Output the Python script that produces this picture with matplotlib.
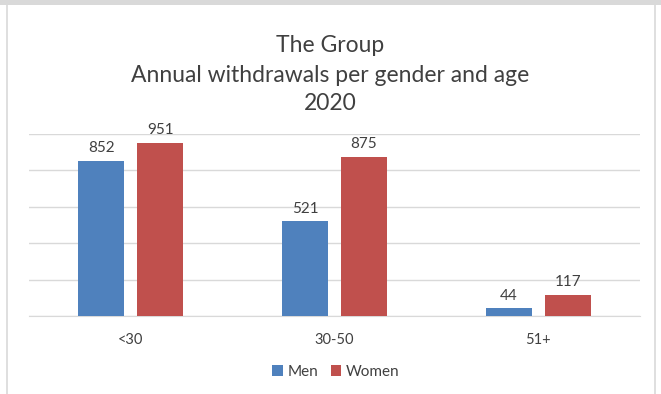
import numpy as np
import matplotlib.pyplot as plt
from matplotlib.patches import Rectangle

# data
categories = ["<30", "30-50", "51+"]
men = [852, 521, 44]
women = [951, 875, 117]

plt.rcParams['font.family'] = ['Lato', 'DejaVu Sans']

fig = plt.figure(figsize=(6.61, 3.94), dpi=100)

# frame around the chart (top band, left and right lines)
fig.add_artist(Rectangle((0, 1 - 5/394), 1, 5/394, transform=fig.transFigure,
                         color='#d9d9d9', lw=0))
fig.add_artist(plt.Line2D([7/661, 7/661], [0, 1 - 5/394], transform=fig.transFigure,
                          color='#d9d9d9', lw=1.2))
fig.add_artist(plt.Line2D([655/661, 655/661], [0, 1 - 5/394], transform=fig.transFigure,
                          color='#d9d9d9', lw=1.2))

# axes placed in pixels: x 29..640, y 134..316 (gridline 1000 .. 0)
ax = fig.add_axes([29/661, 1 - 316/394, (640-29)/661, (316-134)/394])

x = np.arange(len(categories))
w = 0.225
off = 0.145
b1 = ax.bar(x - off, men, w, color='#4F81BD', label='Men', zorder=3)
b2 = ax.bar(x + off, women, w, color='#C0504D', label='Women', zorder=3)

for bars in (b1, b2):
    for r in bars:
        ax.text(r.get_x() + r.get_width()/2, r.get_height() + 30, str(int(r.get_height())),
                ha='center', va='bottom', fontsize=11, color='#404040')

ax.set_xlim(-0.5, 2.5)
ax.set_ylim(0, 1000)
ax.set_yticks(range(0, 1001, 200))
ax.yaxis.grid(True, color='#d9d9d9', lw=1, zorder=0)
ax.tick_params(axis='y', left=False, labelleft=False)
ax.set_xticks(x)
ax.set_xticklabels(categories, fontsize=10.5, color='#404040')
ax.tick_params(axis='x', length=0, pad=12)
for s in ['top', 'right', 'left']:
    ax.spines[s].set_visible(False)
ax.spines['bottom'].set_color('#d9d9d9')

fig.text(0.5, 1 - 45/394, "The Group", ha='center', va='center', fontsize=16.5, color='#404040')
fig.text(0.5, 1 - 75/394, "Annual withdrawals per gender and age", ha='center', va='center',
         fontsize=16.5, color='#404040')
fig.text(0.5, 1 - 104/394, "2020", ha='center', va='center', fontsize=16.5, color='#404040')

fig.legend(loc='center', bbox_to_anchor=(336/661, 1 - 372/394), ncol=2, frameon=False,
           fontsize=11, handlelength=0.7, handleheight=0.7, handletextpad=0.3,
           columnspacing=0.8, labelcolor='#404040')

fig.savefig("out.png", dpi=100)
